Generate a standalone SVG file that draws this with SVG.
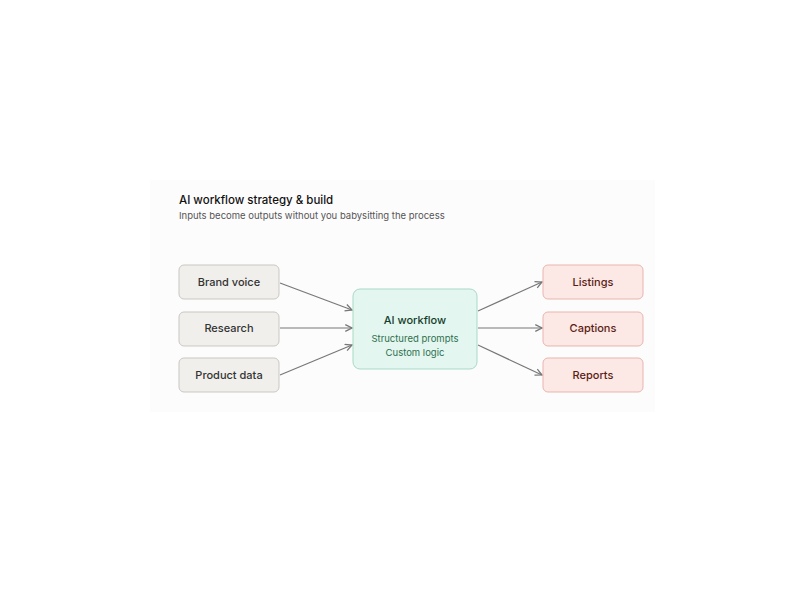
<svg xmlns="http://www.w3.org/2000/svg" width="800" height="600" viewBox="0 0 800 600">
<style>
text{font-family:Inter,"Noto Sans",sans-serif;text-anchor:middle}
.in rect{fill:#f0efeb;stroke:#c9c7c1;stroke-width:1}
.in text{fill:#333;font-size:11px;font-weight:500}
.out rect{fill:#fce8e5;stroke:#e8b5ad;stroke-width:1}
.out text{fill:#5a1d14;font-size:11px;font-weight:500}
.edge{stroke:#777;stroke-width:1.2;fill:none;marker-end:url(#a)}
</style>
<defs><marker id="a" viewBox="0 0 10 10" refX="9" refY="5" markerWidth="7" markerHeight="7" orient="auto"><path d="M1 1L9 5L1 9" fill="none" stroke="#777" stroke-width="1.5"/></marker></defs>
<rect width="800" height="600" fill="#fff"/>
<rect x="150" y="180" width="505" height="232" fill="#fdfcfd"/>
<text x="179" y="204" style="text-anchor:start;font-size:11.5px;font-weight:500;fill:#111">AI workflow strategy &amp; build</text>
<text x="179" y="219" style="text-anchor:start;font-size:9.5px;fill:#555">Inputs become outputs without you babysitting the process</text>
<g id="edges">
<line class="edge" x1="280" y1="283" x2="352" y2="310"/>
<line class="edge" x1="280" y1="328" x2="352" y2="328"/>
<line class="edge" x1="280" y1="375" x2="352" y2="345"/>
<line class="edge" x1="478" y1="311" x2="542" y2="282"/>
<line class="edge" x1="478" y1="328" x2="542" y2="328"/>
<line class="edge" x1="478" y1="345" x2="542" y2="375"/>
</g>
<g id="brand" class="in"><rect x="179" y="265" width="100" height="34" rx="5"/><text x="229" y="286">Brand voice</text></g>
<g id="research" class="in"><rect x="179" y="312" width="100" height="34" rx="5"/><text x="229" y="332">Research</text></g>
<g id="product" class="in"><rect x="179" y="358" width="100" height="34" rx="5"/><text x="229" y="379">Product data</text></g>
<g id="ai"><rect x="353" y="289" width="124" height="80" rx="7" fill="#e3f6ef" stroke="#a9d9c6"/>
<text x="415" y="324" style="font-size:11px;font-weight:500;fill:#153d2c">AI workflow</text>
<text x="415" y="342" style="font-size:9.5px;fill:#2e7050">Structured prompts</text>
<text x="415" y="356" style="font-size:9.5px;fill:#2e7050">Custom logic</text></g>
<g id="listings" class="out"><rect x="543" y="265" width="100" height="34" rx="5"/><text x="593" y="286">Listings</text></g>
<g id="captions" class="out"><rect x="543" y="312" width="100" height="34" rx="5"/><text x="593" y="332">Captions</text></g>
<g id="reports" class="out"><rect x="543" y="358" width="100" height="34" rx="5"/><text x="593" y="379">Reports</text></g>
</svg>
